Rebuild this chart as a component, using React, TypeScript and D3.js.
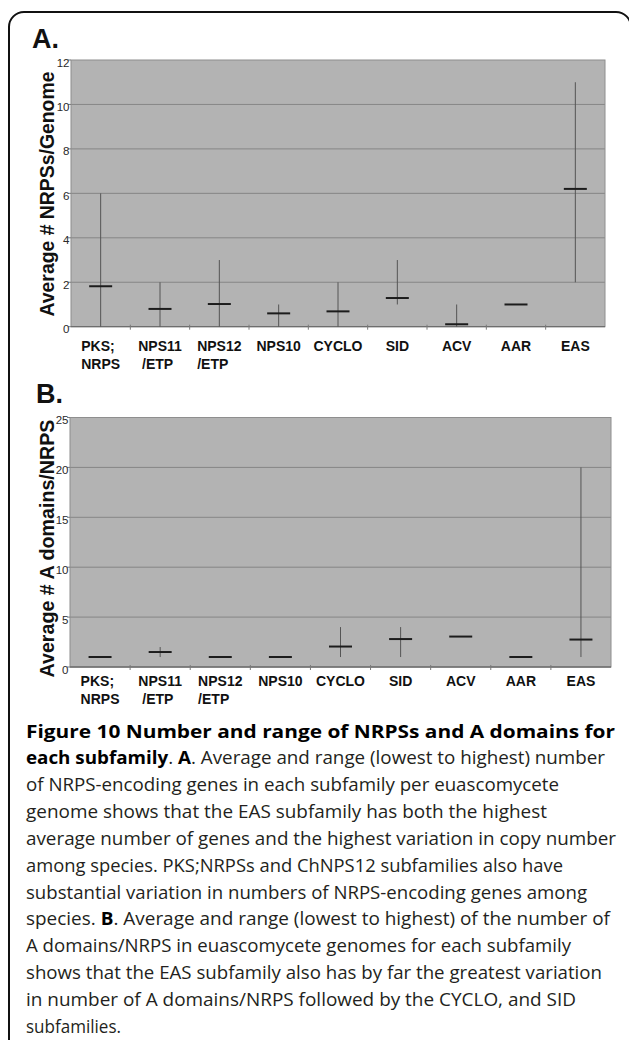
import * as d3 from "d3";
import { useEffect, useRef } from "react";

// subfamily labels, one array of text lines per category
const categoryLines = [
  ["PKS;", "NRPS"],
  ["NPS11", " /ETP"],
  ["NPS12", "/ETP"],
  ["NPS10"],
  ["CYCLO"],
  ["SID"],
  ["ACV"],
  ["AAR"],
  ["EAS"],
];

// A. NRPSs per genome: average, lowest, highest
const genomeMean = [1.82, 0.8, 1.02, 0.6, 0.69, 1.29, 0.11, 1.0, 6.2];
const genomeLow = [0, 0, 0, 0, 0, 1, 0, 1, 2];
const genomeHigh = [6, 2, 3, 1, 2, 3, 1, 1, 11];
const genomeTicks = [0, 2, 4, 6, 8, 10, 12];

// B. A domains per NRPS: average, lowest, highest
const domainMean = [1.0, 1.5, 1.0, 1.0, 2.05, 2.8, 3.05, 1.0, 2.75];
const domainLow = [1, 1, 1, 1, 1, 1, 3, 1, 1];
const domainHigh = [1, 2, 1, 1, 4, 4, 3, 1, 20];
const domainTicks = [0, 5, 10, 15, 20, 25];

// caption, split into printed lines of [text, bold] pieces
const captionLines: [string, boolean][][] = [
  [["Figure 10 Number and range of NRPSs and A domains for", true]],
  [["each subfamily", true], [". ", false], ["A", true], [". Average and range (lowest to highest) number", false]],
  [["of NRPS-encoding genes in each subfamily per euascomycete", false]],
  [["genome shows that the EAS subfamily has both the highest", false]],
  [["average number of genes and the highest variation in copy number", false]],
  [["among species. PKS;NRPSs and ChNPS12 subfamilies also have", false]],
  [["substantial variation in numbers of NRPS-encoding genes among", false]],
  [["species. ", false], ["B", true], [". Average and range (lowest to highest) of the number of", false]],
  [["A domains/NRPS in euascomycete genomes for each subfamily", false]],
  [["shows that the EAS subfamily also has by far the greatest variation", false]],
  [["in number of A domains/NRPS followed by the CYCLO, and SID", false]],
  [["subfamilies.", false]],
];
const captionWidths = [589, 579, 533, 521, 590, 537, 561, 584, 545, 576, 550, 95];

const SANS = "'Liberation Sans', Arial, sans-serif";

function drawPanel(svg, o) {
  const names = categoryLines.map((l) => l.join(" "));
  const x = d3.scaleBand().domain(names).range([o.left, o.right]).padding(0);
  const y = d3
    .scaleLinear()
    .domain([0, d3.max(o.ticks)])
    .range([o.bottom, o.top]);

  const g = svg.append("g");

  g.append("rect")
    .attr("x", o.left)
    .attr("y", o.top)
    .attr("width", o.right - o.left)
    .attr("height", o.bottom - o.top)
    .attr("fill", "#b3b3b3");

  // gridlines
  g.selectAll("line.grid")
    .data(o.ticks.filter((t) => t > 0 && t < d3.max(o.ticks)))
    .join("line")
    .attr("x1", o.left)
    .attr("x2", o.right)
    .attr("y1", (d) => y(d))
    .attr("y2", (d) => y(d))
    .attr("stroke", "#868686")
    .attr("stroke-width", 1);

  g.append("rect")
    .attr("x", o.left)
    .attr("y", o.top)
    .attr("width", o.right - o.left)
    .attr("height", o.bottom - o.top)
    .attr("fill", "none")
    .attr("stroke", "#8e8e8e")
    .attr("stroke-width", 1);

  // x axis line + band boundary ticks
  g.append("line")
    .attr("x1", o.left)
    .attr("x2", o.right)
    .attr("y1", o.bottom)
    .attr("y2", o.bottom)
    .attr("stroke", "#6e6e6e")
    .attr("stroke-width", 1.3);
  g.selectAll("line.xtick")
    .data(names.slice(1))
    .join("line")
    .attr("x1", (d) => x(d))
    .attr("x2", (d) => x(d))
    .attr("y1", o.bottom - 2)
    .attr("y2", o.bottom + 3)
    .attr("stroke", "#7a7a7a")
    .attr("stroke-width", 1);

  // y ticks
  g.selectAll("line.ytick")
    .data(o.ticks)
    .join("line")
    .attr("x1", o.left - 3)
    .attr("x2", o.left)
    .attr("y1", (d) => y(d))
    .attr("y2", (d) => y(d))
    .attr("stroke", "#7a7a7a");
  g.selectAll("text.ytick")
    .data(o.ticks)
    .join("text")
    .attr("x", o.left - 1.5)
    .attr("y", (d) => y(d) + 6.5)
    .attr("text-anchor", "end")
    .style("font-family", SANS)
    .style("font-size", "11.5px")
    .style("fill", "#2a2a2a")
    .text((d) => d);

  // range whiskers
  g.selectAll("line.range")
    .data(names.filter((_, i) => o.high[i] > o.low[i]))
    .join("line")
    .attr("x1", (d) => x(d) + x.bandwidth() / 2)
    .attr("x2", (d) => x(d) + x.bandwidth() / 2)
    .attr("y1", (d) => y(o.low[names.indexOf(d)]))
    .attr("y2", (d) => y(o.high[names.indexOf(d)]))
    .attr("stroke", "#555")
    .attr("stroke-width", 1);

  // averages
  g.selectAll("line.mean")
    .data(names)
    .join("line")
    .attr("x1", (d) => x(d) + x.bandwidth() / 2 - 11.5)
    .attr("x2", (d) => x(d) + x.bandwidth() / 2 + 11.5)
    .attr("y1", (d, i) => y(o.mean[i]))
    .attr("y2", (d, i) => y(o.mean[i]))
    .attr("stroke", "#1c1c1c")
    .attr("stroke-width", 2);

  // category labels: lines left-aligned in a block centred on the band
  categoryLines.forEach((lines, i) => {
    const lg = g.append("g");
    const texts = lines.map((line, j) =>
      lg
        .append("text")
        .attr("x", 0)
        .attr("y", o.labelY + j * 17.5)
        .style("font-family", SANS)
        .style("font-weight", "bold")
        .style("font-size", "14px")
        .style("white-space", "pre")
        .style("fill", "#111")
        .text(line)
    );
    const w = d3.max(texts, (t) => (t.node() as SVGTextElement).getComputedTextLength());
    lg.attr("transform", `translate(${x(names[i]) + x.bandwidth() / 2 - w / 2},0)`);
  });

  // y title
  g.append("text")
    .attr("transform", `translate(53.5,${o.titleY}) rotate(-90)`)
    .attr("text-anchor", "middle")
    .attr("textLength", o.titleLen)
    .attr("lengthAdjust", "spacingAndGlyphs")
    .style("font-family", SANS)
    .style("font-weight", "bold")
    .style("font-size", "20px")
    .style("fill", "#111")
    .text(o.title);

  // panel letter
  g.append("text")
    .attr("x", o.letterX)
    .attr("y", o.letterY)
    .style("font-family", SANS)
    .style("font-weight", "bold")
    .style("font-size", "27px")
    .style("fill", "#111")
    .text(o.letter);
}

export default function App() {
  const ref = useRef<SVGSVGElement>(null);

  useEffect(() => {
    const svg = d3.select(ref.current);
    svg.selectAll("*").remove();

    // outer frame
    svg
      .append("rect")
      .attr("x", 9)
      .attr("y", 12)
      .attr("width", 622)
      .attr("height", 1100)
      .attr("rx", 15)
      .attr("fill", "none")
      .attr("stroke", "#111")
      .attr("stroke-width", 2);

    drawPanel(svg, {
      left: 71,
      right: 605,
      top: 60,
      bottom: 326.7,
      ticks: genomeTicks,
      mean: genomeMean,
      low: genomeLow,
      high: genomeHigh,
      title: "Average # NRPSs/Genome",
      titleY: 194,
      titleLen: 245,
      labelY: 351,
      letter: "A.",
      letterX: 32,
      letterY: 48,
    });

    drawPanel(svg, {
      left: 70,
      right: 611,
      top: 417.5,
      bottom: 667,
      ticks: domainTicks,
      mean: domainMean,
      low: domainLow,
      high: domainHigh,
      title: "Average # A domains/NRPS",
      titleY: 548.5,
      titleLen: 258,
      labelY: 686,
      letter: "B.",
      letterX: 36,
      letterY: 403,
    });

    // caption
    const cap = svg.append("g");
    captionLines.forEach((parts, i) => {
      const t = cap
        .append("text")
        .attr("x", 26)
        .attr("y", 737.5 + i * 26.85)
        .attr("textLength", captionWidths[i])
        .attr("lengthAdjust", "spacingAndGlyphs")
        .style("font-family", "'Open Sans', 'Noto Sans', sans-serif")
        .style("font-size", "18.5px")
        .style("fill", "#231f20");
      parts.forEach(([s, b]) => {
        t.append("tspan")
          .style("font-weight", b ? "bold" : "normal")
          .style("fill", b ? "#000" : "#231f20")
          .text(s);
      });
    });
  }, []);

  return (
    <svg
      ref={ref}
      width={629}
      height={1040}
      style={{ position: "absolute", left: 0, top: 0, background: "#fff" }}
    />
  );
}
